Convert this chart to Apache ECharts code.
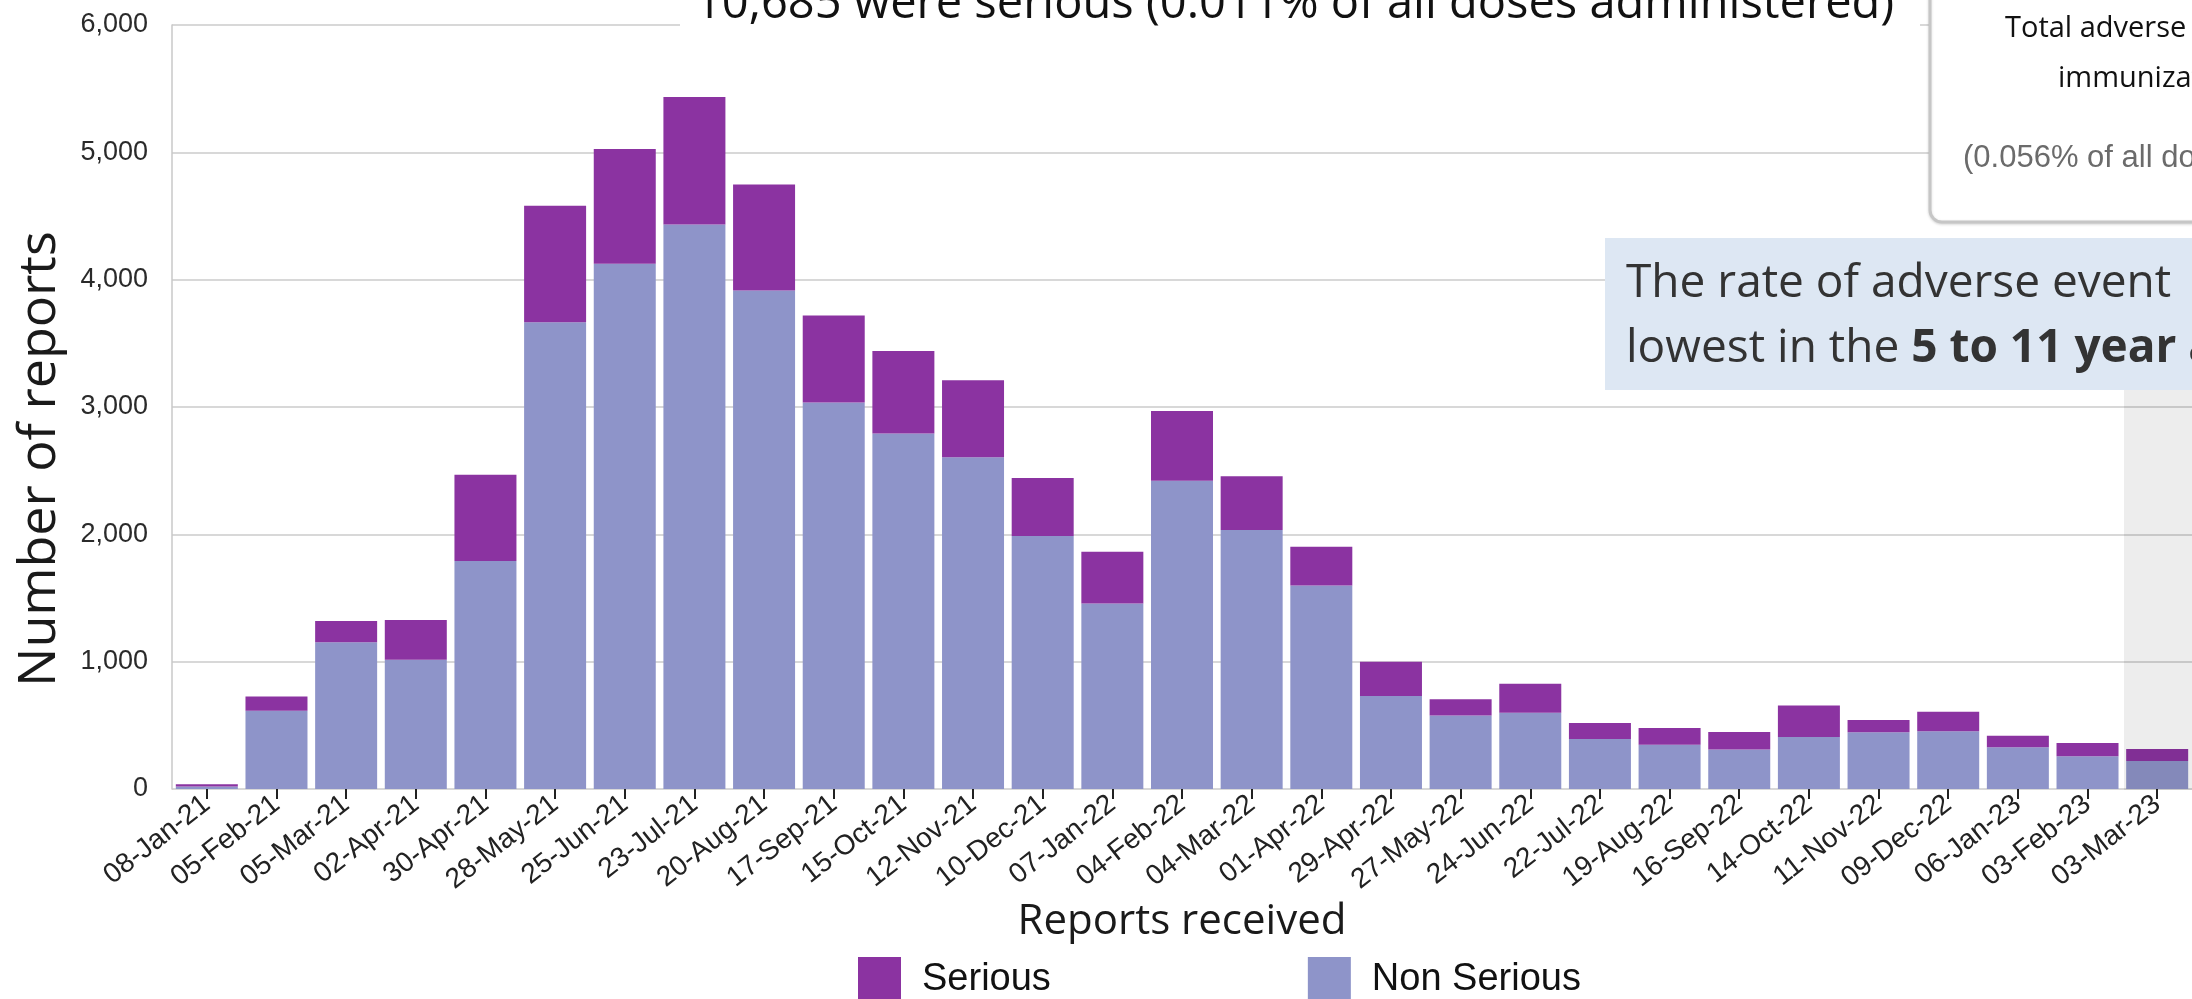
<!DOCTYPE html>
<html>
<head>
<meta charset="utf-8">
<script src="https://cdn.jsdelivr.net/npm/echarts@6/dist/echarts.min.js"></script>
<style>
html,body{margin:0;padding:0;background:#fff;}
#chart{width:2192px;height:999px;}
</style>
</head>
<body>
<div id="chart"></div>
<script>
const categories = ['08-Jan-21','05-Feb-21','05-Mar-21','02-Apr-21','30-Apr-21','28-May-21','25-Jun-21','23-Jul-21','20-Aug-21','17-Sep-21','15-Oct-21','12-Nov-21','10-Dec-21','07-Jan-22','04-Feb-22','04-Mar-22','01-Apr-22','29-Apr-22','27-May-22','24-Jun-22','22-Jul-22','19-Aug-22','16-Sep-22','14-Oct-22','11-Nov-22','09-Dec-22','06-Jan-23','03-Feb-23','03-Mar-23'];
const nonSerious = [20,615,1153,1016,1790,3666,4125,4433,3914,3036,2791,2606,1987,1457,2420,2034,1599,730,577,598,393,348,310,409,445,453,328,258,219];
const serious = [18,111,167,311,678,915,901,1001,834,682,649,604,456,407,549,422,303,269,127,229,126,132,138,247,97,154,91,104,96];
const yTicks = [0,1000,2000,3000,4000,5000,6000];

const chart = echarts.init(document.getElementById('chart'), null, {renderer:'canvas'});
const option = {
  backgroundColor:'#ffffff',
  animation:false,
  grid:{left:172,right:0,top:25,bottom:210,containLabel:false},
  legend:{
    data:['Serious','Non Serious'],
    left:853, top:952,
    itemWidth:43, itemHeight:45, itemGap:257,
    icon:'rect',
    textStyle:{fontSize:38,fontFamily:'"Liberation Sans", Arial, sans-serif',color:'#111',padding:[0,0,0,16]}
  },
  xAxis:{
    type:'category',
    data:categories,
    name:'Reports received',
    nameLocation:'middle',
    nameGap:112,
    nameTextStyle:{fontSize:42,fontFamily:'"Open Sans", sans-serif',color:'#1a1a1a'},
    axisLine:{show:false},
    axisTick:{show:true,alignWithLabel:true,interval:0,length:10,lineStyle:{color:'#222',width:2}},
    axisLabel:{interval:0,rotate:38,fontSize:28,fontFamily:'"Liberation Sans", Arial, sans-serif',color:'#222',margin:12}
  },
  yAxis:{
    type:'value',
    min:yTicks[0], max:yTicks[yTicks.length-1], interval:1000,
    name:'Number of reports',
    nameLocation:'middle',
    nameGap:106,
    nameTextStyle:{fontSize:52,fontFamily:'"Open Sans", sans-serif',color:'#1a1a1a',padding:[0,104,0,0]},
    axisLine:{show:true,lineStyle:{color:'#c8c8c8',width:1.5}},
    axisTick:{show:false},
    splitLine:{show:true,lineStyle:{color:'#d8d8d8',width:2}},
    axisLabel:{fontSize:27,fontFamily:'"Liberation Sans", Arial, sans-serif',color:'#2a2a2a',margin:24,
      formatter:v=>v.toLocaleString('en-US')}
  },
  series:[
    {name:'Non Serious',type:'bar',stack:'total',data:nonSerious,barWidth:62,itemStyle:{color:'#8e94c9'}},
    {name:'Serious',type:'bar',stack:'total',data:serious,barWidth:62,itemStyle:{color:'#8b33a1'}}
  ],
  graphic:[
    {type:'rect',z:100,shape:{x:680,y:0,width:1240,height:32},style:{fill:'#ffffff'}},
    {type:'text',z:101,x:695,y:5,style:{text:'10,685 were serious (0.011% of all doses administered)',font:'47px "Open Sans", sans-serif',fill:'#111',align:'left',verticalAlign:'middle'}},
    {type:'rect',z:100,shape:{x:1930,y:-30,width:320,height:252,r:12},style:{fill:'#ffffff',stroke:'#c6c6c6',lineWidth:3,shadowBlur:3,shadowColor:'rgba(0,0,0,0.15)',shadowOffsetY:1}},
    {type:'text',z:101,x:2005,y:29,style:{text:'Total adverse events following',font:'29px "Open Sans", sans-serif',fill:'#111',align:'left',verticalAlign:'middle'}},
    {type:'text',z:101,x:2058,y:79,style:{text:'immunization reports',font:'29px "Open Sans", sans-serif',fill:'#111',align:'left',verticalAlign:'middle'}},
    {type:'text',z:101,x:1963,y:158,style:{text:'(0.056% of all doses administered)',font:'31px "Liberation Sans", Arial, sans-serif',fill:'#6b6b6b',align:'left',verticalAlign:'middle'}},
    {type:'rect',z:100,shape:{x:1605,y:238,width:620,height:152},style:{fill:'#dde7f3'}},
    {type:'text',z:101,x:1626,y:284,style:{text:'The rate of adverse event',font:'46px "Open Sans", sans-serif',fill:'#333',align:'left',verticalAlign:'middle'}},
    {type:'text',z:101,x:1626,y:349,style:{text:'{n|lowest in the }{b|5 to 11 year age group}',align:'left',verticalAlign:'middle',
      rich:{n:{font:'46px "Open Sans", sans-serif',fill:'#333'},b:{font:'bold 46px "Open Sans", sans-serif',fill:'#333'}}}},
    {type:'rect',z:102,shape:{x:2124,y:390,width:80,height:400},style:{fill:'rgba(0,0,0,0.07)'}}
  ]
};
chart.setOption(option);
</script>
</body>
</html>
